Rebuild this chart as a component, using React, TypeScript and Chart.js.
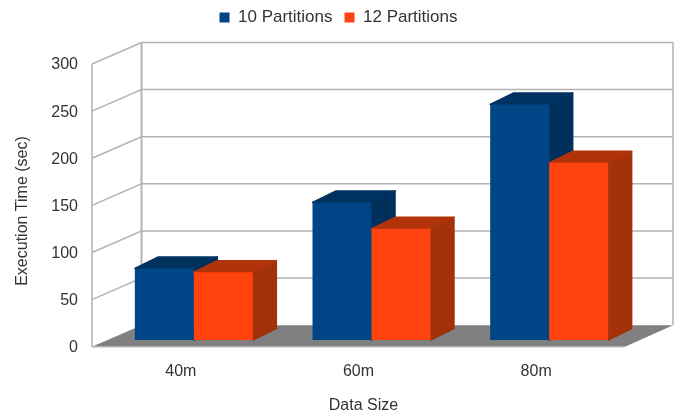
import React, { useEffect, useRef } from "react";
import { Chart, registerables } from "chart.js";

Chart.register(...registerables);

const categories = ["40m", "60m", "80m"];
const partitions10 = [76, 146, 250];
const partitions12 = [72, 118, 188];
const seriesNames = ["10 Partitions", "12 Partitions"];
const xTitle = "Data Size";
const yTitle = "Execution Time (sec)";

const FONT = "'Liberation Sans', Arial, sans-serif";
const TEXT = "#333333";
const GRID = "#b3b3b3";
const FLOOR = "#808080";

// Depth of the open box behind the plot, and of each bar.
const WALL_DX = 49.5;
const WALL_DY = 21.5;
const BAR_SHIFT_X = 13;
const BAR_SHIFT_Y = 6.7;
const BAR_DX = 23.5;
const BAR_DY = 11.5;

const shades: Record<string, { top: string; side: string }> = {
  [seriesNames[0]]: { top: "#00325f", side: "#00305c" },
  [seriesNames[1]]: { top: "#b03309", side: "#a3310a" },
};

function poly(ctx: CanvasRenderingContext2D, pts: number[][], fill?: string) {
  ctx.beginPath();
  pts.forEach(([x, y], i) => (i ? ctx.lineTo(x, y) : ctx.moveTo(x, y)));
  ctx.closePath();
  if (fill) {
    ctx.fillStyle = fill;
    ctx.fill();
  }
}

function drawWalls(chart: any) {
  const { ctx, chartArea: a, scales } = chart;
  const y = scales.y;
  const backRight = a.right + WALL_DX - 1.5;
  const zeroY = y.getPixelForValue(0);
  const topY = y.getPixelForValue(y.max);
  ctx.save();
  poly(
    ctx,
    [
      [a.left, a.bottom],
      [a.right, a.bottom],
      [backRight, zeroY - WALL_DY],
      [a.left + WALL_DX, zeroY - WALL_DY],
    ],
    FLOOR
  );
  ctx.strokeStyle = GRID;
  ctx.lineWidth = 1.5;
  y.ticks.forEach((t: any) => {
    const py = y.getPixelForValue(t.value);
    ctx.beginPath();
    ctx.moveTo(a.left, py);
    if (t.value > 0) {
      ctx.lineTo(a.left + WALL_DX, py - WALL_DY);
      ctx.lineTo(backRight, py - WALL_DY);
    } else {
      ctx.lineTo(a.right, py);
    }
    ctx.stroke();
  });
  ctx.beginPath();
  ctx.moveTo(a.left, topY);
  ctx.lineTo(a.left, zeroY);
  ctx.moveTo(backRight, topY - WALL_DY);
  ctx.lineTo(backRight, zeroY - WALL_DY);
  ctx.stroke();
  // The rear corner reads heavier than the other edges.
  ctx.lineWidth = 2;
  ctx.beginPath();
  ctx.moveTo(a.left + WALL_DX, topY - WALL_DY);
  ctx.lineTo(a.left + WALL_DX, zeroY - WALL_DY);
  ctx.stroke();
  ctx.restore();
}

function drawBars(chart: any, index: number) {
  const { ctx } = chart;
  const meta = chart.getDatasetMeta(index);
  const shade = shades[chart.data.datasets[index].label];
  ctx.save();
  ctx.lineJoin = "round";
  ctx.lineWidth = 1.5;
  meta.data.forEach((bar: any) => {
    const l = bar.x - bar.width / 2 + BAR_SHIFT_X;
    const r = bar.x + bar.width / 2 + BAR_SHIFT_X;
    const t = bar.y - BAR_SHIFT_Y;
    const b = bar.base - BAR_SHIFT_Y;
    poly(
      ctx,
      [
        [r, t],
        [r + BAR_DX, t - BAR_DY],
        [r + BAR_DX, b - BAR_DY],
        [r, b],
      ],
      shade.side
    );
    ctx.strokeStyle = shade.side;
    ctx.stroke();
    poly(
      ctx,
      [
        [l, t],
        [l + BAR_DX, t - BAR_DY],
        [r + BAR_DX, t - BAR_DY],
        [r, t],
      ],
      shade.top
    );
    ctx.strokeStyle = shade.top;
    ctx.stroke();
  });
  // Front faces are painted by the bar elements themselves, pushed into the box.
  ctx.translate(BAR_SHIFT_X, -BAR_SHIFT_Y);
  meta.data.forEach((bar: any) => bar.draw(ctx));
  ctx.restore();
}

const boxPlugin = {
  id: "box3d",
  afterLayout(chart: any) {
    // Legend sits near the top edge, a little left of the page centre.
    chart.legend.top = -3;
    chart.legend.left = 0;
    chart.legend.right = 677;
  },
  beforeDatasetsDraw(chart: any) {
    drawWalls(chart);
    // Series go front to back in index order so each one covers the depth of the one before.
    chart.data.datasets.forEach((_: any, i: number) => drawBars(chart, i));
    return false;
  },
  afterDraw(chart: any) {
    const { ctx } = chart;
    ctx.save();
    ctx.fillStyle = TEXT;
    ctx.font = `16px ${FONT}`;
    ctx.textAlign = "center";
    ctx.textBaseline = "middle";
    ctx.fillText(xTitle, 363.5, 406);
    ctx.translate(22.5, 211);
    ctx.rotate(-Math.PI / 2);
    ctx.fillText(yTitle, 0, 0);
    ctx.restore();
  },
};

export default function App() {
  const ref = useRef<HTMLCanvasElement>(null);

  useEffect(() => {
    const chart = new Chart(ref.current!, {
      type: "bar",
      data: {
        labels: categories,
        datasets: [
          { label: seriesNames[0], data: partitions10, backgroundColor: "#004586" },
          { label: seriesNames[1], data: partitions12, backgroundColor: "#ff420e" },
        ],
      },
      options: {
        responsive: false,
        animation: false,
        layout: { padding: { top: 25, right: 58, left: 0, bottom: 0 } },
        datasets: { bar: { categoryPercentage: 0.664, barPercentage: 1 } },
        plugins: {
          tooltip: { enabled: false },
          legend: {
            position: "top",
            labels: {
              font: { family: FONT, size: 17 },
              color: TEXT,
              boxWidth: 10,
              boxHeight: 10,
              padding: 12,
            },
          },
        },
        scales: {
          x: {
            grid: { display: false },
            border: { display: false },
            ticks: { color: TEXT, font: { family: FONT, size: 16 }, padding: 7, maxRotation: 0 },
            afterFit(scale: any) {
              scale.height = 70.3;
            },
          },
          y: {
            min: 0,
            max: 300,
            grid: { display: false },
            border: { display: false },
            ticks: {
              stepSize: 50,
              color: TEXT,
              font: { family: FONT, size: 16 },
              padding: 6,
              labelOffset: 1,
            },
            afterFit(scale: any) {
              scale.width = 92;
            },
          },
        },
      } as any,
      plugins: [boxPlugin],
    });
    return () => chart.destroy();
  }, []);

  return (
    <div style={{ position: "fixed", left: 0, top: 0, width: 683, height: 417 }}>
      <canvas ref={ref} width={683} height={417} style={{ display: "block" }} />
    </div>
  );
}
